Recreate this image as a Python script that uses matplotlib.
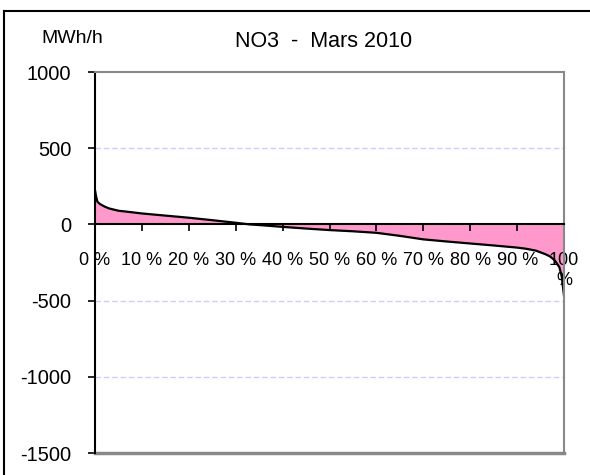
import matplotlib.pyplot as plt
from matplotlib.lines import Line2D

# duration curve, NO3 March 2010
pct = [0, 0.2, 0.5, 1, 2, 3, 5, 7, 10, 15, 20, 25, 30, 33, 35, 40, 45, 50,
       55, 60, 65, 70, 75, 80, 85, 90, 92, 94, 96, 97, 98, 99, 99.5, 100]
mwh = [225, 190, 150, 135, 118, 105, 90, 83, 72, 58, 44, 28, 11, 0, -4, -16,
       -27, -37, -45, -55, -75, -98, -112, -125, -138, -152, -160, -172,
       -195, -210, -235, -280, -340, -470]

xticks = list(range(0, 101, 10))
xlabels = ["%d %%" % v for v in xticks[:-1]] + ["100\n%"]
yticks = [-1500, -1000, -500, 0, 500, 1000]

plt.rcParams['font.family'] = ['Liberation Sans', 'DejaVu Sans']

fig = plt.figure(figsize=(5.9, 4.75), dpi=100)
ax = fig.add_axes([0.161, 0.0463, 0.795, 0.802])

ax.fill_between(pct, mwh, 0, color='#ff99cc', linewidth=0)
ax.plot(pct, mwh, color='black', linewidth=1.6)

ax.set_xlim(0, 100)
ax.set_ylim(-1500, 1000)

ax.set_yticks(yticks)
ax.set_yticklabels([str(v) for v in yticks])
ax.set_xticks(xticks)
ax.set_xticklabels(xlabels, linespacing=0.95)

for y in [500, -500, -1000]:
    ax.axhline(y, color='#ccccff', linestyle=(0, (4, 2)), linewidth=1, zorder=0)

ax.spines['bottom'].set_position(('data', 0))
ax.spines['bottom'].set_color('black')
ax.spines['bottom'].set_linewidth(1.5)
ax.spines['left'].set_linewidth(1.5)
ax.spines['top'].set_color('#888888')
ax.spines['right'].set_color('#888888')
ax.spines['top'].set_linewidth(1.5)
ax.spines['right'].set_linewidth(1.5)
ax.axhline(-1500, color='#888888', linewidth=2.5, clip_on=False)

ax.tick_params(axis='y', direction='out', length=5, width=1.2, pad=12, labelsize=14.5)
ax.tick_params(axis='x', direction='out', length=5, width=1.2, pad=15, labelsize=13)

fig.text(0.549, 1 - 46.7 / 475, "NO3  -  Mars 2010", ha='center', va='baseline', fontsize=15.5)
fig.text(0.123, 1 - 43 / 475, "MWh/h", ha='center', va='baseline', fontsize=14)

# outer frame (top and left edges visible)
fig.add_artist(Line2D([4 / 590, 1], [1 - 11 / 475, 1 - 11 / 475],
                      transform=fig.transFigure, color='black', linewidth=1.5))
fig.add_artist(Line2D([4 / 590, 4 / 590], [0, 1 - 11 / 475],
                      transform=fig.transFigure, color='black', linewidth=1.5))

fig.savefig('out.png', dpi=100)
